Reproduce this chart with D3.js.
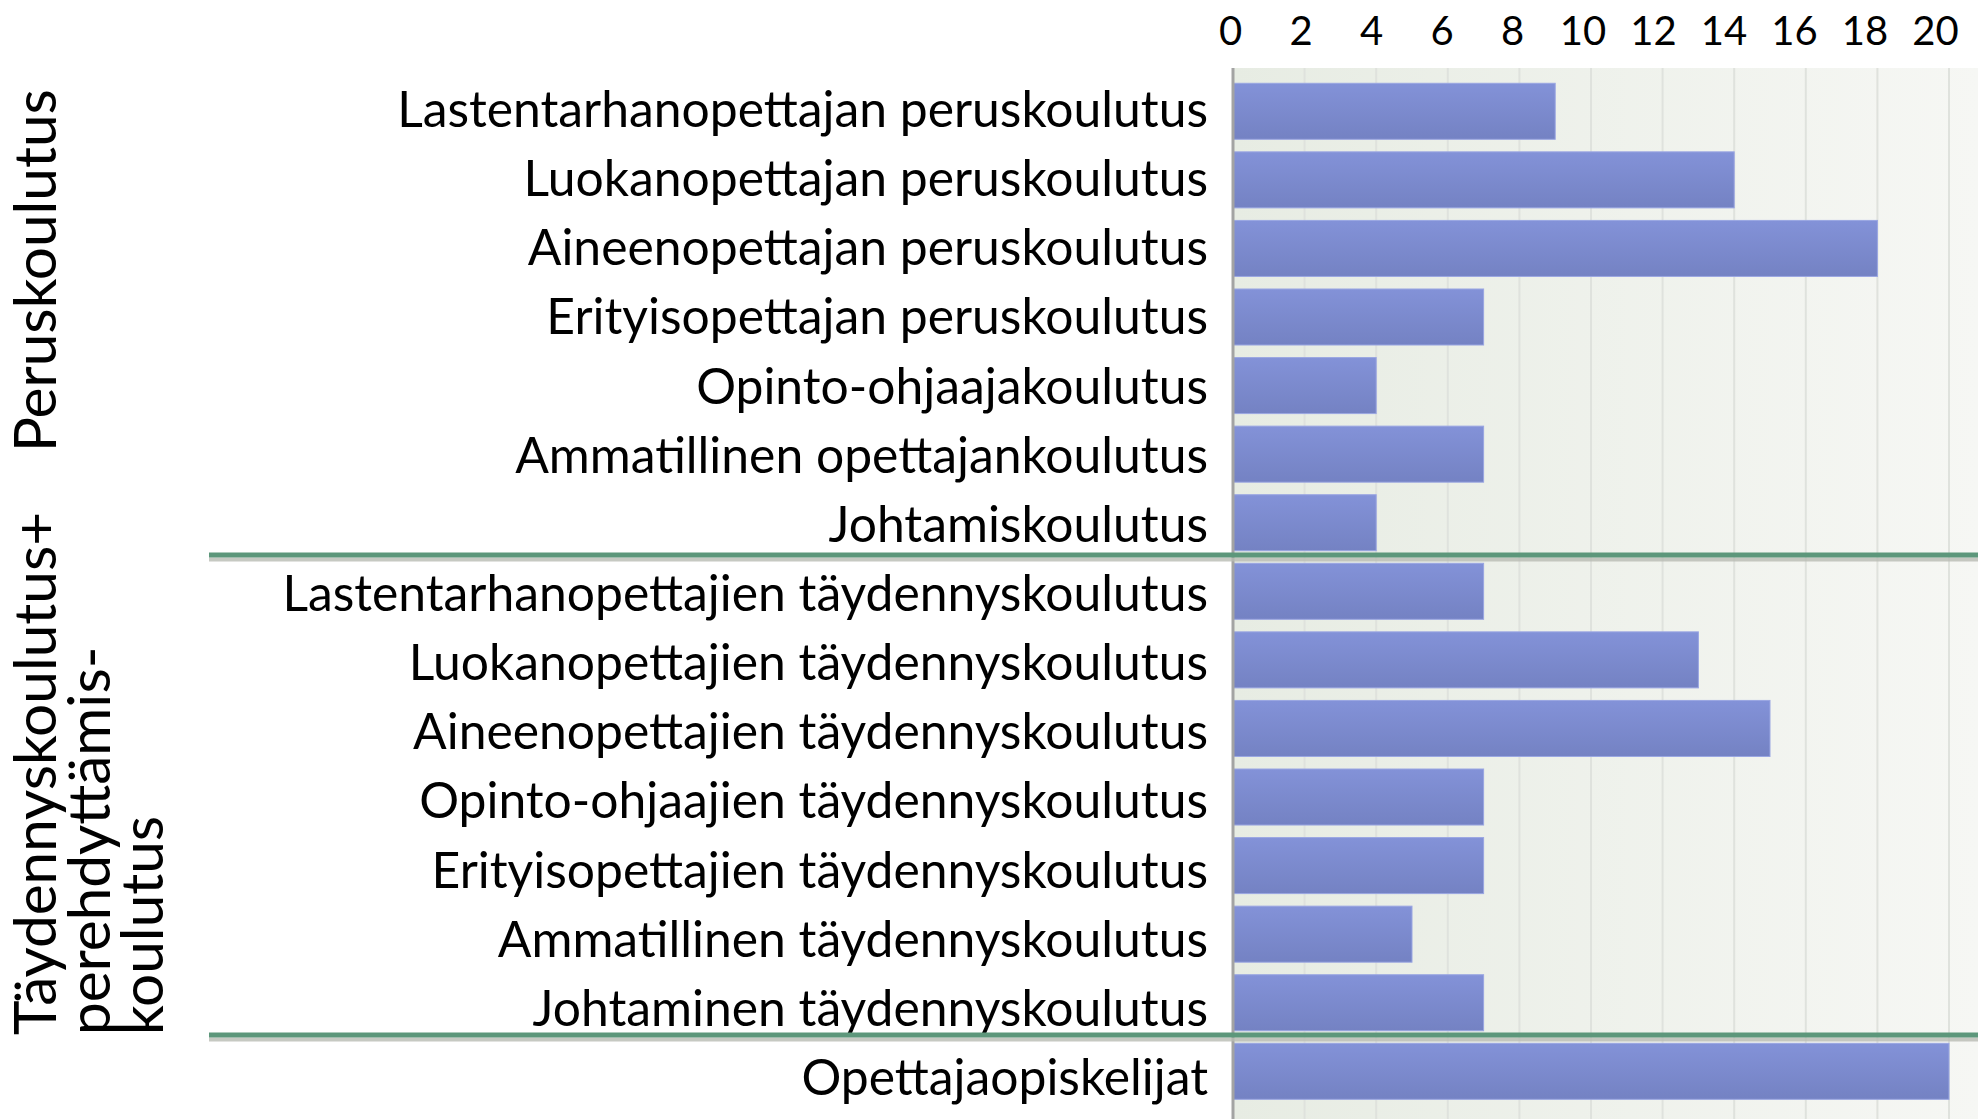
<!DOCTYPE html>
<html>
<head>
<meta charset="utf-8">
<script src="https://cdn.jsdelivr.net/npm/d3@7/dist/d3.min.js"></script>
<style>
    body { margin: 0; background: #fff; }
    text { font-family: Lato, "Open Sans", sans-serif; fill: #000; }
</style>
</head>
<body>
<div id="chart"></div>
<script>
const categories = [
    "Lastentarhanopettajan peruskoulutus",
    "Luokanopettajan peruskoulutus",
    "Aineenopettajan peruskoulutus",
    "Erityisopettajan peruskoulutus",
    "Opinto-ohjaajakoulutus",
    "Ammatillinen opettajankoulutus",
    "Johtamiskoulutus",
    "Lastentarhanopettajien täydennyskoulutus",
    "Luokanopettajien täydennyskoulutus",
    "Aineenopettajien täydennyskoulutus",
    "Opinto-ohjaajien täydennyskoulutus",
    "Erityisopettajien täydennyskoulutus",
    "Ammatillinen täydennyskoulutus",
    "Johtaminen täydennyskoulutus",
    "Opettajaopiskelijat"
];
const values = [9, 14, 18, 7, 4, 7, 4, 7, 13, 15, 7, 7, 5, 7, 20];
const xTicks = [0, 2, 4, 6, 8, 10, 12, 14, 16, 18, 20];

// group titles (rotated) and the last category of each group
const groupTitles = [
    ["Peruskoulutus"],
    ["Täydennyskoulutus+", "perehdyttämis-", "koulutus"]
];
const groupEnds = ["Johtamiskoulutus", "Johtaminen täydennyskoulutus"];

const width = 1984, height = 1119;
const plot = {left: 1233, top: 68, right: 1978, bottom: 1119};

const svg = d3.select("#chart").append("svg")
    .attr("width", width)
    .attr("height", height);

const x = d3.scaleLinear().domain([0, 20]).range([plot.left, 1949]);
// the tick numbers sit a little tighter than the grid
const xLabel = d3.scaleLinear().domain([0, 20]).range([1230, 1935]);

const y = d3.scaleBand()
    .domain(categories)
    .range([77, 1105.6])
    .paddingInner(0.183)
    .paddingOuter(0.0915);
const yLabel = d3.scalePoint().domain(categories).range([127, 1095]);

const defs = svg.append("defs");
const bgGrad = defs.append("linearGradient").attr("id", "bgGrad");
bgGrad.append("stop").attr("offset", "0%").attr("stop-color", "#e7ece3");
bgGrad.append("stop").attr("offset", "100%").attr("stop-color", "#f6f7f4");

const barGrad = defs.append("linearGradient").attr("id", "barGrad")
    .attr("x1", 0).attr("y1", 0).attr("x2", 0).attr("y2", 1);
barGrad.append("stop").attr("offset", "0%").attr("stop-color", "#8392d8");
barGrad.append("stop").attr("offset", "100%").attr("stop-color", "#7482c3");

// plot background
svg.append("rect")
    .attr("x", plot.left)
    .attr("y", plot.top)
    .attr("width", plot.right - plot.left)
    .attr("height", plot.bottom - plot.top)
    .style("fill", "url(#bgGrad)");

// vertical gridlines
svg.append("g")
    .selectAll("line")
    .data(xTicks.slice(1))
    .enter()
    .append("line")
    .attr("x1", d => x(d))
    .attr("x2", d => x(d))
    .attr("y1", plot.top)
    .attr("y2", plot.bottom)
    .style("stroke", "#dfe2dd")
    .style("stroke-width", 2);

// bars
svg.append("g")
    .selectAll("rect")
    .data(values)
    .enter()
    .append("rect")
    .attr("x", x(0))
    .attr("y", (d, i) => y(categories[i]))
    .attr("width", d => x(d) - x(0))
    .attr("height", y.bandwidth())
    .style("fill", "url(#barGrad)")
    .style("stroke", "#9aa6e2")
    .style("stroke-width", 1);

// value axis on top
const xAxis = svg.append("g")
    .attr("transform", "translate(0, 45)")
    .call(d3.axisTop(xLabel).tickValues(xTicks).tickSize(0).tickPadding(0));
xAxis.select(".domain").remove();
xAxis.selectAll("text")
    .style("font-family", "Lato, sans-serif")
    .style("font-size", "40px")
    .style("fill", "#000")
    .attr("dy", 0);

// category axis line
svg.append("line")
    .attr("x1", plot.left)
    .attr("x2", plot.left)
    .attr("y1", plot.top)
    .attr("y2", plot.bottom)
    .style("stroke", "#a3a3a3")
    .style("stroke-width", 3);

// category labels
svg.append("g")
    .selectAll("text")
    .data(categories)
    .enter()
    .append("text")
    .attr("x", 1208)
    .attr("y", d => yLabel(d))
    .attr("text-anchor", "end")
    .style("font-size", "49.8px")
    .text(d => d);

// group separators
const sepY = d => y(d) + y.step() - (y.step() - y.bandwidth()) / 2 - 2;
const seps = svg.append("g").selectAll("g")
    .data(groupEnds)
    .enter()
    .append("g");
seps.append("line")
    .attr("x1", 209).attr("x2", plot.right)
    .attr("y1", d => sepY(d) + 4.5).attr("y2", d => sepY(d) + 4.5)
    .style("stroke", "#b9bcb4")
    .style("stroke-width", 4)
    .style("opacity", 0.8);
seps.append("line")
    .attr("x1", 209).attr("x2", plot.right)
    .attr("y1", d => sepY(d)).attr("y2", d => sepY(d))
    .style("stroke", "#5d977b")
    .style("stroke-width", 5);

// rotated group titles
const titleBottom = [452, 1035];
groupTitles.forEach((lines, g) => {
    lines.forEach((line, k) => {
        svg.append("text")
            .attr("transform", `translate(${56 + k * 53.5}, ${titleBottom[g]}) rotate(-90)`)
            .attr("text-anchor", "start")
            .style("font-size", "58.5px")
            .text(line);
    });
});
</script>
</body>
</html>
